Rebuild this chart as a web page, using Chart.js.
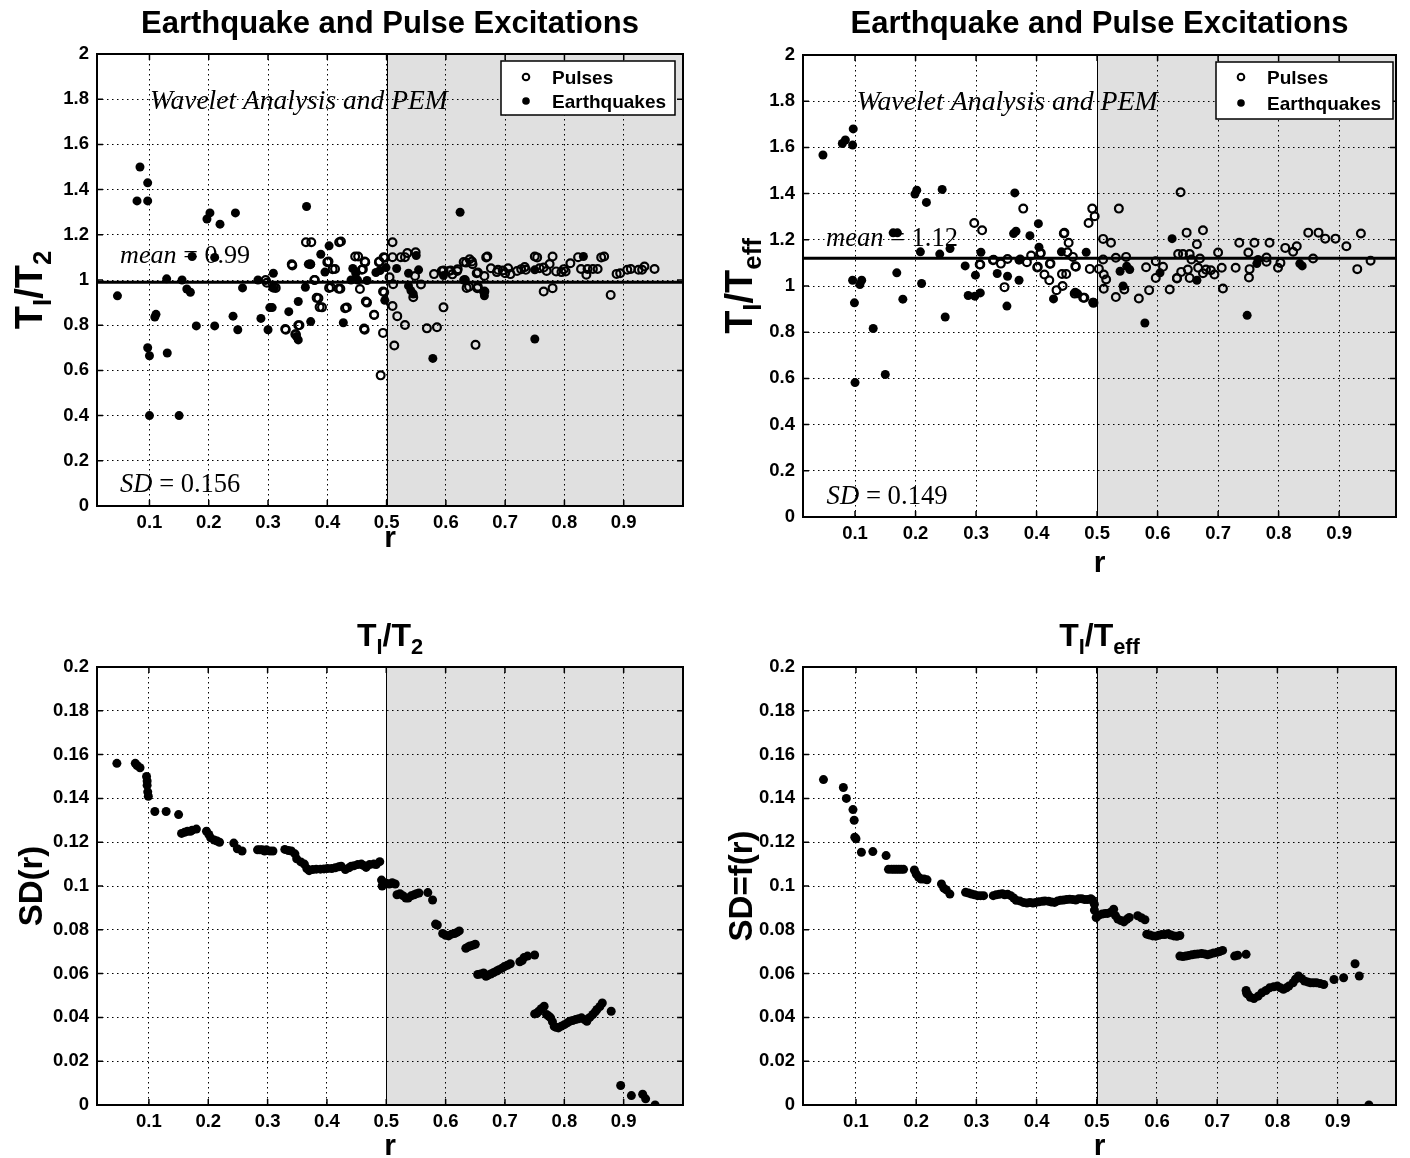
<!DOCTYPE html>
<html>
<head>
<meta charset="utf-8">
<script src="https://cdn.jsdelivr.net/npm/chart.js@4.4.1/dist/chart.umd.min.js"></script>
<style>
  html, body { margin: 0; padding: 0; background: #fff; }
  #wrap { position: relative; width: 1410px; height: 1158px; overflow: hidden; }
  canvas { position: absolute; }
</style>
</head>
<body>
<div id="wrap">
  <canvas id="ratioT2" width="705" height="580" style="left:0;top:0"></canvas>
  <canvas id="ratioTeff" width="705" height="580" style="left:705px;top:0"></canvas>
  <canvas id="sdT2" width="705" height="578" style="left:0;top:580px"></canvas>
  <canvas id="sdTeff" width="705" height="578" style="left:705px;top:580px"></canvas>
</div>
<script>
// ---- data ----
const xTicks = [0.1, 0.2, 0.3, 0.4, 0.5, 0.6, 0.7, 0.8, 0.9];
const yTicksRatio = [0, 0.2, 0.4, 0.6, 0.8, 1, 1.2, 1.4, 1.6, 1.8, 2];
const yTicksSD = [0, 0.02, 0.04, 0.06, 0.08, 0.1, 0.12, 0.14, 0.16, 0.18, 0.2];
const shadeFrom = 0.5;
const meanT2 = 0.99, meanTeff = 1.12;
const sdT2 = 0.156, sdTeff = 0.149;

// [r, T_I/T_2]
const quakesT2 = [[0.046,0.93],[0.084,1.50],[0.079,1.35],[0.097,1.35],[0.097,1.43],[0.097,0.70],[0.100,0.665],[0.100,0.40],
  [0.109,0.836],[0.111,0.848],[0.130,0.677],[0.129,1.005],[0.150,0.40],[0.155,1.0],[0.163,0.96],[0.169,0.946],[0.172,1.104],
  [0.179,0.797],[0.197,1.27],[0.202,1.297],[0.210,1.10],[0.210,0.797],[0.219,1.247],[0.245,1.297],[0.241,0.84],[0.249,0.78],
  [0.257,0.965],[0.283,1.0],[0.288,0.83],[0.300,0.78],[0.303,0.878],[0.307,0.878],[0.309,1.03],[0.308,0.965],[0.335,0.86],
  [0.351,0.905],[0.351,0.735],[0.348,0.75],[0.372,0.816],[0.363,0.968],[0.365,1.325],[0.389,1.114],[0.403,1.151],[0.396,1.035],
  [0.427,0.811],[0.443,1.051],[0.440,1.0],[0.451,1.0],[0.467,0.998],[0.482,1.033],[0.489,1.042],[0.499,1.055],[0.497,0.91],
  [0.517,1.051],[0.537,1.03],[0.537,0.974],[0.541,0.953],[0.545,0.938],[0.554,1.045],[0.550,1.108],[0.578,0.653],[0.624,1.30],
  [0.596,1.02],[0.630,1.0],[0.664,0.946],[0.665,0.93],[0.750,1.045],[0.750,0.739],[0.832,1.104],[0.448,1.03],[0.372,1.07],[0.368,1.07]];
const pulsesT2 = [[0.341,1.064],[0.364,1.167],[0.373,1.167],[0.379,1.0],[0.400,1.079],[0.409,1.048],[0.403,0.965],[0.419,0.961],
  [0.420,1.167],[0.382,0.921],[0.387,0.88],[0.430,0.875],[0.353,0.80],[0.347,0.759],[0.330,0.78],[0.298,0.988],[0.313,0.965],
  [0.296,1.0],[0.447,1.104],[0.452,1.104],[0.464,1.079],[0.460,1.048],[0.487,1.079],[0.497,1.098],[0.467,0.90],[0.479,0.846],
  [0.463,0.78],[0.494,0.766],[0.490,0.578],[0.496,0.946],[0.458,1.045],[0.488,1.082],[0.510,1.167],[0.510,1.101],[0.524,1.101],
  [0.531,1.101],[0.535,1.119],[0.549,1.123],[0.505,1.012],[0.511,0.981],[0.494,0.949],[0.510,0.885],[0.531,0.801],[0.513,0.71],
  [0.548,1.018],[0.568,0.786],[0.585,0.791],[0.545,0.924],[0.580,1.026],[0.596,1.042],[0.596,0.879],[0.608,1.042],[0.620,1.048],
  [0.634,1.077],[0.640,1.092],[0.644,1.082],[0.632,1.0],[0.639,0.97],[0.654,0.97],[0.654,1.033],[0.650,0.713],[0.670,1.104],
  [0.665,1.018],[0.676,1.052],[0.688,1.045],[0.696,1.042],[0.705,1.052],[0.709,1.026],[0.653,0.964],[0.665,0.949],[0.727,1.048],
  [0.733,1.057],[0.750,1.104],[0.758,1.052],[0.765,1.055],[0.775,1.071],[0.780,1.104],[0.786,1.038],[0.802,1.038],[0.799,1.048],
  [0.810,1.074],[0.823,1.101],[0.828,1.049],[0.837,1.023],[0.839,1.049],[0.848,1.049],[0.856,1.049],[0.867,1.104],[0.894,1.03],
  [0.912,1.049],[0.931,1.045],[0.935,1.06],[0.952,1.049],[0.765,0.949],[0.780,0.964],[0.878,0.934],[0.668,1.10],[0.593,1.04],
  [0.605,1.04],[0.619,1.04],[0.630,1.08],[0.645,1.07],[0.652,1.03],[0.635,0.965],[0.686,1.035],[0.700,1.03],[0.720,1.04],
  [0.735,1.045],[0.754,1.10],[0.795,1.035],[0.770,1.04],[0.862,1.10],[0.888,1.027],[0.906,1.045],[0.925,1.045],[0.518,0.84],
  [0.558,0.98],[0.611,1.025],[0.455,0.96],[0.402,1.082],[0.413,1.049],[0.406,0.968],[0.422,0.961],[0.423,1.17],[0.385,0.919],
  [0.391,0.879],[0.433,0.878],[0.465,0.905],[0.479,0.845],[0.462,0.785],[0.329,0.783],[0.351,0.8],[0.346,0.76],[0.463,1.082],
  [0.495,1.101],[0.371,1.07],[0.340,1.07],[0.310,0.967],[0.378,1.0]];

// [r, T_I/T_eff]
const quakesTeff = [[0.047,1.567],[0.079,1.617],[0.084,1.632],[0.097,1.68],[0.096,1.61],[0.096,1.025],[0.111,1.025],[0.108,1.006],
  [0.099,0.927],[0.100,0.582],[0.130,0.816],[0.150,0.617],[0.163,1.23],[0.170,1.23],[0.169,1.057],[0.179,0.943],[0.199,1.398],
  [0.202,1.415],[0.208,1.148],[0.210,1.011],[0.218,1.362],[0.244,1.418],[0.240,1.138],[0.257,1.162],[0.249,0.866],[0.282,1.087],
  [0.299,1.047],[0.287,0.959],[0.298,0.956],[0.307,0.97],[0.308,1.146],[0.335,1.054],[0.352,1.042],[0.351,0.913],[0.364,1.403],
  [0.362,1.227],[0.366,1.237],[0.371,1.025],[0.373,1.117],[0.389,1.218],[0.403,1.27],[0.404,1.168],[0.428,0.944],[0.441,1.148],
  [0.464,0.973],[0.468,0.966],[0.482,1.146],[0.493,0.93],[0.538,1.064],[0.549,1.086],[0.554,1.071],[0.543,1.0],[0.579,0.84],
  [0.604,1.057],[0.624,1.205],[0.665,1.025],[0.748,0.873],[0.764,1.097],[0.766,1.115],[0.835,1.097],[0.839,1.087],[0.371,1.112]];
const pulsesTeff = [[0.297,1.273],[0.310,1.241],[0.307,1.093],[0.329,1.114],[0.341,1.097],[0.352,1.117],[0.347,0.995],[0.378,1.335],
  [0.384,1.103],[0.391,1.132],[0.402,1.083],[0.407,1.143],[0.413,1.05],[0.422,1.096],[0.421,1.025],[0.433,0.982],[0.443,1.0],
  [0.446,1.23],[0.453,1.187],[0.451,1.146],[0.442,1.052],[0.449,1.052],[0.464,1.086],[0.479,0.949],[0.494,0.927],[0.486,1.273],
  [0.492,1.335],[0.496,1.302],[0.488,1.074],[0.510,1.204],[0.523,1.187],[0.503,1.074],[0.511,1.05],[0.515,1.028],[0.511,0.988],
  [0.510,1.115],[0.531,1.122],[0.548,1.126],[0.536,1.335],[0.531,0.952],[0.545,0.985],[0.569,0.946],[0.581,1.081],[0.586,0.982],
  [0.597,1.107],[0.597,1.035],[0.609,1.083],[0.620,0.985],[0.632,1.035],[0.638,1.406],[0.648,1.231],[0.675,1.241],[0.665,1.181],
  [0.634,1.138],[0.642,1.138],[0.653,1.138],[0.656,1.115],[0.670,1.119],[0.639,1.061],[0.650,1.071],[0.632,1.033],[0.653,1.035],
  [0.667,1.079],[0.675,1.055],[0.680,1.071],[0.688,1.068],[0.694,1.05],[0.700,1.145],[0.706,1.079],[0.708,0.989],[0.729,1.079],
  [0.735,1.187],[0.750,1.145],[0.760,1.187],[0.752,1.073],[0.751,1.037],[0.780,1.123],[0.780,1.105],[0.785,1.187],[0.799,1.079],
  [0.803,1.1],[0.811,1.165],[0.824,1.148],[0.830,1.172],[0.857,1.119],[0.849,1.231],[0.866,1.231],[0.877,1.205],[0.894,1.205],
  [0.912,1.172],[0.936,1.227],[0.930,1.073],[0.952,1.109],[0.401,1.08],[0.423,1.097],[0.460,1.126],[0.465,1.083],[0.463,0.967],
  [0.477,0.949],[0.306,1.093],[0.328,1.112],[0.406,1.141],[0.445,1.227]];

// [r, SD(r)] for T_I/T_2
const sdCurveT2 = [[0.046,0.156],[0.077,0.156],[0.080,0.155],[0.085,0.154],[0.096,0.150],[0.097,0.148],[0.097,0.146],[0.098,0.143],
  [0.099,0.141],[0.110,0.134],[0.129,0.134],[0.150,0.1326],[0.155,0.124],[0.160,0.1245],[0.165,0.125],[0.170,0.125],[0.173,0.1255],
  [0.180,0.126],[0.197,0.125],[0.201,0.1235],[0.204,0.122],[0.210,0.121],[0.215,0.1205],[0.219,0.120],[0.243,0.1196],[0.249,0.117],
  [0.257,0.116],[0.283,0.1165],[0.287,0.1165],[0.291,0.1165],[0.295,0.116],[0.298,0.1165],[0.304,0.116],[0.309,0.116],[0.329,0.1167],
  [0.335,0.1162],[0.340,0.116],[0.346,0.1147],[0.349,0.1124],[0.356,0.111],[0.362,0.110],[0.366,0.108],[0.370,0.107],[0.376,0.1075],
  [0.382,0.1077],[0.389,0.1077],[0.395,0.1078],[0.401,0.108],[0.408,0.108],[0.414,0.1083],[0.420,0.1088],[0.424,0.109],[0.431,0.1075],
  [0.437,0.1083],[0.441,0.109],[0.446,0.1093],[0.452,0.1098],[0.458,0.110],[0.461,0.1095],[0.466,0.1085],[0.472,0.1098],[0.479,0.110],
  [0.483,0.1098],[0.489,0.1111],[0.492,0.1027],[0.493,0.100],[0.496,0.1015],[0.500,0.1012],[0.505,0.1009],[0.510,0.1015],[0.515,0.1009],
  [0.518,0.096],[0.523,0.0965],[0.528,0.0956],[0.533,0.0945],[0.537,0.0945],[0.542,0.0955],[0.547,0.096],[0.551,0.0965],[0.555,0.0968],
  [0.570,0.097],[0.578,0.0936],[0.583,0.0826],[0.586,0.0822],[0.595,0.0783],[0.600,0.0775],[0.605,0.0772],[0.610,0.078],[0.615,0.0783],
  [0.619,0.0788],[0.623,0.0795],[0.634,0.0716],[0.638,0.0722],[0.641,0.0726],[0.646,0.073],[0.650,0.0734],[0.654,0.0596],[0.659,0.0598],
  [0.664,0.0603],[0.668,0.0588],[0.671,0.0592],[0.676,0.0598],[0.681,0.0605],[0.686,0.0612],[0.690,0.0618],[0.695,0.0625],[0.699,0.0632],
  [0.704,0.0638],[0.709,0.0645],[0.725,0.0654],[0.729,0.066],[0.732,0.0673],[0.738,0.068],[0.750,0.0685],[0.750,0.0416],[0.754,0.042],
  [0.757,0.0428],[0.761,0.044],[0.766,0.0451],[0.770,0.0413],[0.774,0.0405],[0.777,0.0398],[0.780,0.038],[0.783,0.0359],[0.786,0.0355],
  [0.790,0.0352],[0.795,0.036],[0.800,0.0367],[0.805,0.0375],[0.809,0.0382],[0.814,0.0386],[0.819,0.039],[0.824,0.0394],[0.829,0.0398],
  [0.834,0.039],[0.838,0.0382],[0.843,0.040],[0.848,0.0413],[0.852,0.0425],[0.855,0.0436],[0.860,0.045],[0.864,0.0466],[0.879,0.0428],
  [0.895,0.0089],[0.913,0.0043],[0.932,0.0049],[0.937,0.0028],[0.953,0.0]];

// [r, SD=f(r)] for T_I/T_eff
const sdCurveTeff = [[0.046,0.1486],[0.079,0.145],[0.084,0.140],[0.095,0.1349],[0.097,0.130],[0.098,0.1223],[0.100,0.1216],[0.109,0.1154],
  [0.128,0.1157],[0.150,0.1139],[0.154,0.1076],[0.159,0.1076],[0.163,0.1076],[0.167,0.1076],[0.171,0.1076],[0.175,0.1076],[0.179,0.1076],
  [0.197,0.1073],[0.200,0.1055],[0.204,0.104],[0.208,0.1032],[0.213,0.1032],[0.218,0.1028],[0.242,0.1009],[0.246,0.099],[0.250,0.0982],
  [0.256,0.0963],[0.282,0.0971],[0.287,0.0968],[0.292,0.0963],[0.297,0.096],[0.302,0.0956],[0.307,0.0956],[0.312,0.0956],[0.328,0.0956],
  [0.333,0.096],[0.338,0.0962],[0.343,0.0965],[0.347,0.096],[0.352,0.0962],[0.357,0.0956],[0.362,0.0945],[0.366,0.0935],[0.372,0.0932],
  [0.378,0.0925],[0.384,0.0922],[0.389,0.0925],[0.394,0.0922],[0.399,0.0925],[0.404,0.0928],[0.410,0.093],[0.414,0.0932],[0.420,0.093],
  [0.425,0.0927],[0.430,0.0925],[0.435,0.0932],[0.440,0.0935],[0.445,0.0936],[0.450,0.0938],[0.455,0.094],[0.460,0.0938],[0.465,0.0936],
  [0.470,0.0942],[0.475,0.0942],[0.480,0.0938],[0.485,0.0938],[0.490,0.0942],[0.493,0.0935],[0.496,0.0917],[0.496,0.089],[0.499,0.0856],
  [0.503,0.0866],[0.509,0.0872],[0.514,0.0875],[0.518,0.0875],[0.523,0.088],[0.528,0.0894],[0.531,0.0865],[0.535,0.0849],[0.540,0.0842],
  [0.545,0.0836],[0.550,0.0848],[0.554,0.0856],[0.568,0.0864],[0.574,0.0855],[0.580,0.0846],[0.583,0.078],[0.588,0.0776],[0.593,0.0772],
  [0.598,0.0771],[0.603,0.0775],[0.608,0.0778],[0.613,0.0778],[0.618,0.0782],[0.623,0.0776],[0.628,0.0772],[0.633,0.0770],[0.638,0.0774],
  [0.638,0.0680],[0.643,0.0678],[0.648,0.068],[0.653,0.0683],[0.658,0.0686],[0.663,0.0688],[0.668,0.0690],[0.674,0.0692],[0.679,0.069],
  [0.684,0.0686],[0.689,0.0690],[0.694,0.0694],[0.700,0.0697],[0.704,0.0701],[0.709,0.0706],[0.729,0.068],[0.734,0.0684],[0.748,0.0688],
  [0.748,0.0523],[0.749,0.051],[0.751,0.0505],[0.755,0.0492],[0.761,0.0486],[0.768,0.0497],[0.774,0.0512],[0.781,0.0523],[0.787,0.0535],
  [0.794,0.054],[0.800,0.0543],[0.805,0.0535],[0.810,0.0528],[0.815,0.0535],[0.819,0.0543],[0.826,0.0558],[0.830,0.0574],[0.835,0.0589],
  [0.840,0.0578],[0.845,0.0566],[0.850,0.0562],[0.855,0.0558],[0.860,0.0558],[0.865,0.0558],[0.871,0.0555],[0.877,0.055],[0.894,0.0573],
  [0.910,0.0581],[0.929,0.0645],[0.936,0.0589],[0.952,0.0]];

// ---- drawing helpers ----
const SANS = '"Liberation Sans", Arial, Helvetica, sans-serif';
const SERIF = '"Liberation Serif", "Times New Roman", serif';
const pts = arr => arr.map(p => ({ x: p[0], y: p[1] }));
const fmt = v => String(+Number(v).toFixed(4));

function partFont(p, size) {
  return (p.it ? 'italic ' : '') + (p.b ? 'bold ' : '') + (size * (p.s || 1)).toFixed(1) + 'px ' + (p.f || SANS);
}
function partsWidth(ctx, parts, size) {
  let w = 0;
  for (const p of parts) { ctx.font = partFont(p, size); w += ctx.measureText(p.t).width; }
  return w;
}
function drawParts(ctx, parts, x, y, size, align) {
  const w = partsWidth(ctx, parts, size);
  let cx = align === 'center' ? x - w / 2 : x;
  ctx.textAlign = 'left';
  ctx.textBaseline = 'alphabetic';
  for (const p of parts) {
    ctx.font = partFont(p, size);
    ctx.fillText(p.t, cx, y + (p.dy || 0) * size);
    cx += ctx.measureText(p.t).width;
  }
}
// text fitted to a width, left edge at data x, vertically centred at data y
function drawFitted(ctx, parts, px, py, width) {
  const size = 20 * width / partsWidth(ctx, parts, 20);
  drawParts(ctx, parts, px, py + size * 0.33, size, 'left');
}

function makeDeco(cfg) {
  return {
    id: 'deco',
    beforeDraw(chart) {
      const { ctx, chartArea: a, scales: { x } } = chart;
      ctx.save();
      ctx.fillStyle = '#fff';
      ctx.fillRect(0, 0, chart.width, chart.height);
      const xs = x.getPixelForValue(shadeFrom);
      ctx.fillStyle = '#e0e0e0';
      ctx.fillRect(xs, a.top, a.right - xs, a.bottom - a.top);
      ctx.strokeStyle = '#000';
      ctx.lineWidth = 1;
      ctx.beginPath();
      ctx.moveTo(Math.round(xs) + 0.5, a.top);
      ctx.lineTo(Math.round(xs) + 0.5, a.bottom);
      ctx.stroke();
      ctx.restore();
    },
    afterDraw(chart) {
      const { ctx, chartArea: a, scales: { x, y } } = chart;
      ctx.save();
      // axes box and inward ticks
      ctx.strokeStyle = '#000';
      ctx.lineWidth = 1.5;
      ctx.beginPath();
      const tl = 6;
      for (const v of cfg.xt) {
        const px = x.getPixelForValue(v);
        ctx.moveTo(px, a.bottom); ctx.lineTo(px, a.bottom - tl);
        ctx.moveTo(px, a.top); ctx.lineTo(px, a.top + tl);
      }
      for (const v of cfg.yt) {
        const py = y.getPixelForValue(v);
        ctx.moveTo(a.left, py); ctx.lineTo(a.left + tl, py);
        ctx.moveTo(a.right, py); ctx.lineTo(a.right - tl, py);
      }
      ctx.stroke();
      ctx.lineWidth = 2;
      ctx.strokeRect(a.left, a.top, a.right - a.left, a.bottom - a.top);

      ctx.fillStyle = '#000';
      const cxm = (a.left + a.right) / 2;
      // title
      drawParts(ctx, cfg.title, cxm, cfg.titleY, cfg.titleSize, 'center');
      // x label
      drawParts(ctx, [{ t: 'r', b: 1 }], cxm, cfg.xLabelY, 30, 'center');
      // y label (rotated)
      ctx.save();
      ctx.translate(cfg.yLabelX, (a.top + a.bottom) / 2 + (cfg.yLabelShift || 0));
      ctx.rotate(-Math.PI / 2);
      drawParts(ctx, cfg.yLabel, 0, 12, cfg.yLabelSize, 'center');
      ctx.restore();

      // in-axes annotations
      for (const n of cfg.notes || []) {
        drawFitted(ctx, n.parts, x.getPixelForValue(n.x), y.getPixelForValue(n.y), n.w);
      }

      // legend
      if (cfg.legend) {
        const L = cfg.legend;
        ctx.fillStyle = '#fff';
        ctx.fillRect(L.x, L.y, L.w, L.h);
        ctx.strokeStyle = '#000';
        ctx.lineWidth = 1.5;
        ctx.strokeRect(L.x, L.y, L.w, L.h);
        const rows = [{ label: 'Pulses', open: true, dy: L.r1 }, { label: 'Earthquakes', open: false, dy: L.r2 }];
        for (const r of rows) {
          const my = L.y + r.dy;
          ctx.beginPath();
          if (r.open) {
            ctx.arc(L.x + 25, my, 3.3, 0, Math.PI * 2);
            ctx.lineWidth = 2;
            ctx.strokeStyle = '#000';
            ctx.stroke();
          } else {
            ctx.arc(L.x + 25, my, 3.8, 0, Math.PI * 2);
            ctx.fillStyle = '#000';
            ctx.fill();
          }
          ctx.fillStyle = '#000';
          drawParts(ctx, [{ t: r.label, b: 1 }], L.x + 51, my + 7, 19, 'left');
        }
      }
      ctx.restore();
    }
  };
}

function buildChart(id, cfg) {
  const canvas = document.getElementById(id);
  const W = canvas.width, H = canvas.height, box = cfg.box;
  const tickFont = { family: SANS, size: 18.5, weight: 'bold' };
  return new Chart(canvas, {
    type: 'scatter',
    data: { datasets: cfg.datasets },
    options: {
      responsive: false,
      animation: false,
      devicePixelRatio: 1,
      events: [],
      layout: { padding: { left: 0, top: box.t, right: W - box.r, bottom: 0 } },
      plugins: { legend: { display: false }, tooltip: { enabled: false } },
      scales: {
        x: {
          type: 'linear', min: cfg.xMin, max: cfg.xMax,
          afterBuildTicks: s => { s.ticks = cfg.xt.map(v => ({ value: v })); },
          afterFit: s => { s.height = H - box.b; s.paddingLeft = 0; s.paddingRight = 0; },
          grid: { color: '#000', lineWidth: 1, drawTicks: false },
          border: { display: false, dash: [1.5, 3.5] },
          ticks: { padding: 6, color: '#000', font: tickFont, maxRotation: 0, autoSkip: false, callback: v => fmt(v) }
        },
        y: {
          type: 'linear', min: cfg.yMin, max: cfg.yMax,
          afterBuildTicks: s => { s.ticks = cfg.yt.map(v => ({ value: v })); },
          afterFit: s => { s.width = box.l; s.paddingTop = 0; s.paddingBottom = 0; },
          grid: { color: '#000', lineWidth: 1, drawTicks: false },
          border: { display: false, dash: [1.5, 3.5] },
          ticks: { padding: 8, color: '#000', font: tickFont, autoSkip: false, callback: v => fmt(v) }
        }
      }
    },
    plugins: [makeDeco(cfg)]
  });
}

const ratioSets = (pulses, quakes, mean, xMin, xMax) => [
  { label: 'mean', data: [{ x: xMin, y: mean }, { x: xMax, y: mean }], showLine: true,
    borderColor: '#000', borderWidth: 3, pointRadius: 0 },
  { label: 'Earthquakes', data: pts(quakes), pointRadius: 4.5, backgroundColor: '#000', borderColor: '#000', borderWidth: 0 },
  { label: 'Pulses', data: pts(pulses), pointRadius: 3.9, backgroundColor: 'rgba(0,0,0,0)', borderColor: '#000', borderWidth: 2.2 }
];
const sdSet = curve => [{ label: 'SD', data: pts(curve), pointRadius: 4.5, backgroundColor: '#000', borderColor: '#000', borderWidth: 0 }];

const mainTitle = [{ t: 'Earthquake and Pulse Excitations', b: 1 }];
const wavelet = [{ t: 'Wavelet Analysis and PEM', it: 1, f: SERIF }];
const meanNote = v => [{ t: 'mean', it: 1, f: SERIF }, { t: ' = ' + v, f: SERIF }];
const sdNote = v => [{ t: 'SD', it: 1, f: SERIF }, { t: ' = ' + v, f: SERIF }];
const subLabel = sub => [{ t: 'T', b: 1 }, { t: 'I', b: 1, s: 0.68, dy: 0.24 }, { t: '/T', b: 1 }, { t: sub, b: 1, s: 0.68, dy: 0.24 }];

buildChart('ratioT2', {
  box: { l: 97, t: 54, r: 683, b: 506 }, xMin: 0.0115, xMax: 1.0, yMin: 0, yMax: 2,
  xt: xTicks, yt: yTicksRatio,
  datasets: ratioSets(pulsesT2, quakesT2, meanT2, 0.0115, 1.0),
  title: mainTitle, titleY: 33, titleSize: 31,
  xLabelY: 547, yLabelX: 30, yLabel: subLabel('2'), yLabelSize: 38, yLabelShift: 10,
  notes: [
    { parts: wavelet, x: 0.101, y: 1.796, w: 298 },
    { parts: meanNote('0.99'), x: 0.0505, y: 1.115, w: 130 },
    { parts: sdNote(sdT2), x: 0.0505, y: 0.102, w: 120 }
  ],
  legend: { x: 501, y: 61, w: 174, h: 54, r1: 16, r2: 40 }
});

buildChart('ratioTeff', {
  box: { l: 98, t: 55, r: 691, b: 517 }, xMin: 0.014, xMax: 0.994, yMin: 0, yMax: 2,
  xt: xTicks, yt: yTicksRatio,
  datasets: ratioSets(pulsesTeff, quakesTeff, meanTeff, 0.014, 0.994),
  title: mainTitle, titleY: 33, titleSize: 31,
  xLabelY: 572, yLabelX: 35, yLabel: subLabel('eff'), yLabelSize: 38,
  notes: [
    { parts: wavelet, x: 0.103, y: 1.80, w: 301 },
    { parts: meanNote('1.12'), x: 0.052, y: 1.213, w: 132 },
    { parts: sdNote(sdTeff), x: 0.053, y: 0.095, w: 121 }
  ],
  legend: { x: 511, y: 62, w: 177, h: 57, r1: 15, r2: 41 }
});

buildChart('sdT2', {
  box: { l: 97, t: 87, r: 683, b: 525 }, xMin: 0.0125, xMax: 1.0, yMin: 0, yMax: 0.2,
  xt: xTicks, yt: yTicksSD,
  datasets: sdSet(sdCurveT2),
  title: subLabel('2'), titleY: 66, titleSize: 32,
  xLabelY: 575, yLabelX: 30, yLabel: [{ t: 'SD(r)', b: 1 }], yLabelSize: 33
});

buildChart('sdTeff', {
  box: { l: 98, t: 87, r: 691, b: 525 }, xMin: 0.012, xMax: 0.997, yMin: 0, yMax: 0.2,
  xt: xTicks, yt: yTicksSD,
  datasets: sdSet(sdCurveTeff),
  title: subLabel('eff'), titleY: 66, titleSize: 32,
  xLabelY: 575, yLabelX: 35, yLabel: [{ t: 'SD=f(r)', b: 1 }], yLabelSize: 33
});
</script>
</body>
</html>
